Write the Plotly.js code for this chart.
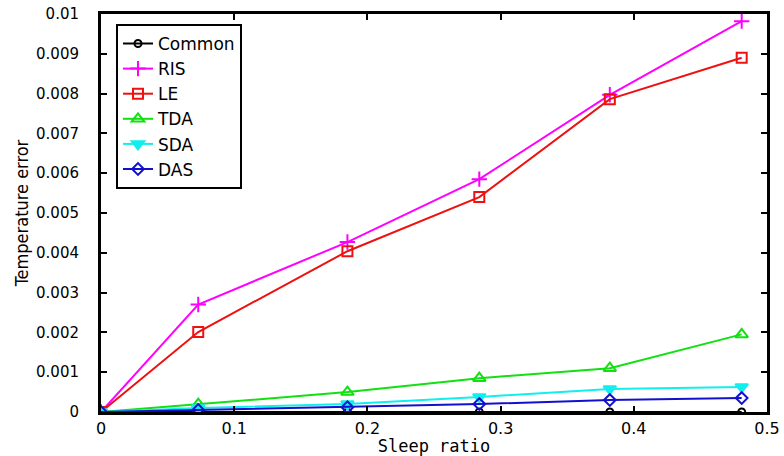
<!DOCTYPE html>
<html>
<head>
<meta charset="utf-8">
<script src="https://cdn.plot.ly/plotly-3.0.1.min.js"></script>
<style>html,body{margin:0;padding:0;background:#fff;}#chart{width:784px;height:456px;}</style>
</head>
<body>
<div id="chart"></div>
<script>
const sleepRatio = [0, 0.073, 0.185, 0.284, 0.382, 0.481];
const common = [0, 0, 0, 0, 0, 0];
const ris = [0, 0.0027, 0.00427, 0.00585, 0.00797, 0.00982];
const le = [0, 0.00201, 0.00404, 0.0054, 0.00786, 0.0089];
const tda = [0, 0.0002, 0.0005, 0.00085, 0.0011, 0.00195];
const sda = [0, 0.0001, 0.0002, 0.00038, 0.00058, 0.00063];
const das = [0, 0.00005, 0.00012, 0.0002, 0.0003, 0.00035];
const seriesNames = ["Common", "RIS", "LE", "TDA", "SDA", "DAS"];
const yTickVals = [0, 0.001, 0.002, 0.003, 0.004, 0.005, 0.006, 0.007, 0.008, 0.009, 0.01];
const yTickText = ["0", "0.001", "0.002", "0.003", "0.004", "0.005", "0.006", "0.007", "0.008", "0.009", "0.01"];
const xTickVals = [0, 0.1, 0.2, 0.3, 0.4, 0.5];
const xTickText = ["0", "0.1", "0.2", "0.3", "0.4", "0.5"];

const styles = [
  {color: "#000000", symbol: "circle-open", size: 7},
  {color: "#ff00ff", symbol: "cross-thin-open", size: 11},
  {color: "#ee1111", symbol: "square-open", size: 10},
  {color: "#11e011", symbol: "triangle-up-open", size: 11},
  {color: "#11eeee", symbol: "triangle-down", size: 11},
  {color: "#1111cc", symbol: "diamond-open", size: 9}
];
const values = [common, ris, le, tda, sda, das];

const traces = values.map((v, i) => ({
  x: sleepRatio,
  y: v,
  name: seriesNames[i],
  type: "scatter",
  mode: "lines+markers",
  line: {color: styles[i].color, width: 2},
  marker: {symbol: styles[i].symbol, size: styles[i].size, color: styles[i].color,
           line: {color: styles[i].color, width: 2}}
}));

const axisFont = {family: "DejaVu Sans, sans-serif", size: 15, color: "#000"};

const layout = {
  width: 784, height: 456,
  margin: {l: 101, r: 17, t: 14, b: 44},
  paper_bgcolor: "#fff", plot_bgcolor: "#fff",
  showlegend: true,
  legend: {
    x: 0.0225, y: 0.975, xanchor: "left", yanchor: "top",
    bordercolor: "#000", borderwidth: 2, bgcolor: "#fff",
    font: {family: "DejaVu Sans, sans-serif", size: 17, color: "#000"},
    tracegroupgap: 0
  },
  xaxis: {
    range: [0, 0.5], tickvals: xTickVals, ticktext: xTickText,
    ticks: "inside", ticklen: 6, tickwidth: 2, tickcolor: "#000",
    showline: true, linecolor: "#000", linewidth: 3, mirror: "ticks",
    showgrid: false, zeroline: false,
    tickfont: {family: "DejaVu Sans, sans-serif", size: 16, color: "#000"},
    title: {text: "Sleep ratio", font: {family: "DejaVu Sans Mono, monospace", size: 17, color: "#000"}, standoff: 7}
  },
  yaxis: {
    range: [0, 0.01], tickvals: yTickVals, ticktext: yTickText,
    ticks: "inside", ticklen: 6, tickwidth: 2, tickcolor: "#000",
    showline: true, linecolor: "#000", linewidth: 3, mirror: "ticks",
    showgrid: false, zeroline: false,
    tickfont: axisFont,
    ticklabelstandoff: 16,
    title: {text: "Temperature error", font: {family: "DejaVu Sans Condensed, sans-serif", size: 18, color: "#000"}, standoff: 3}
  }
};

Plotly.newPlot("chart", traces, layout, {displayModeBar: false, staticPlot: true});
</script>
</body>
</html>
